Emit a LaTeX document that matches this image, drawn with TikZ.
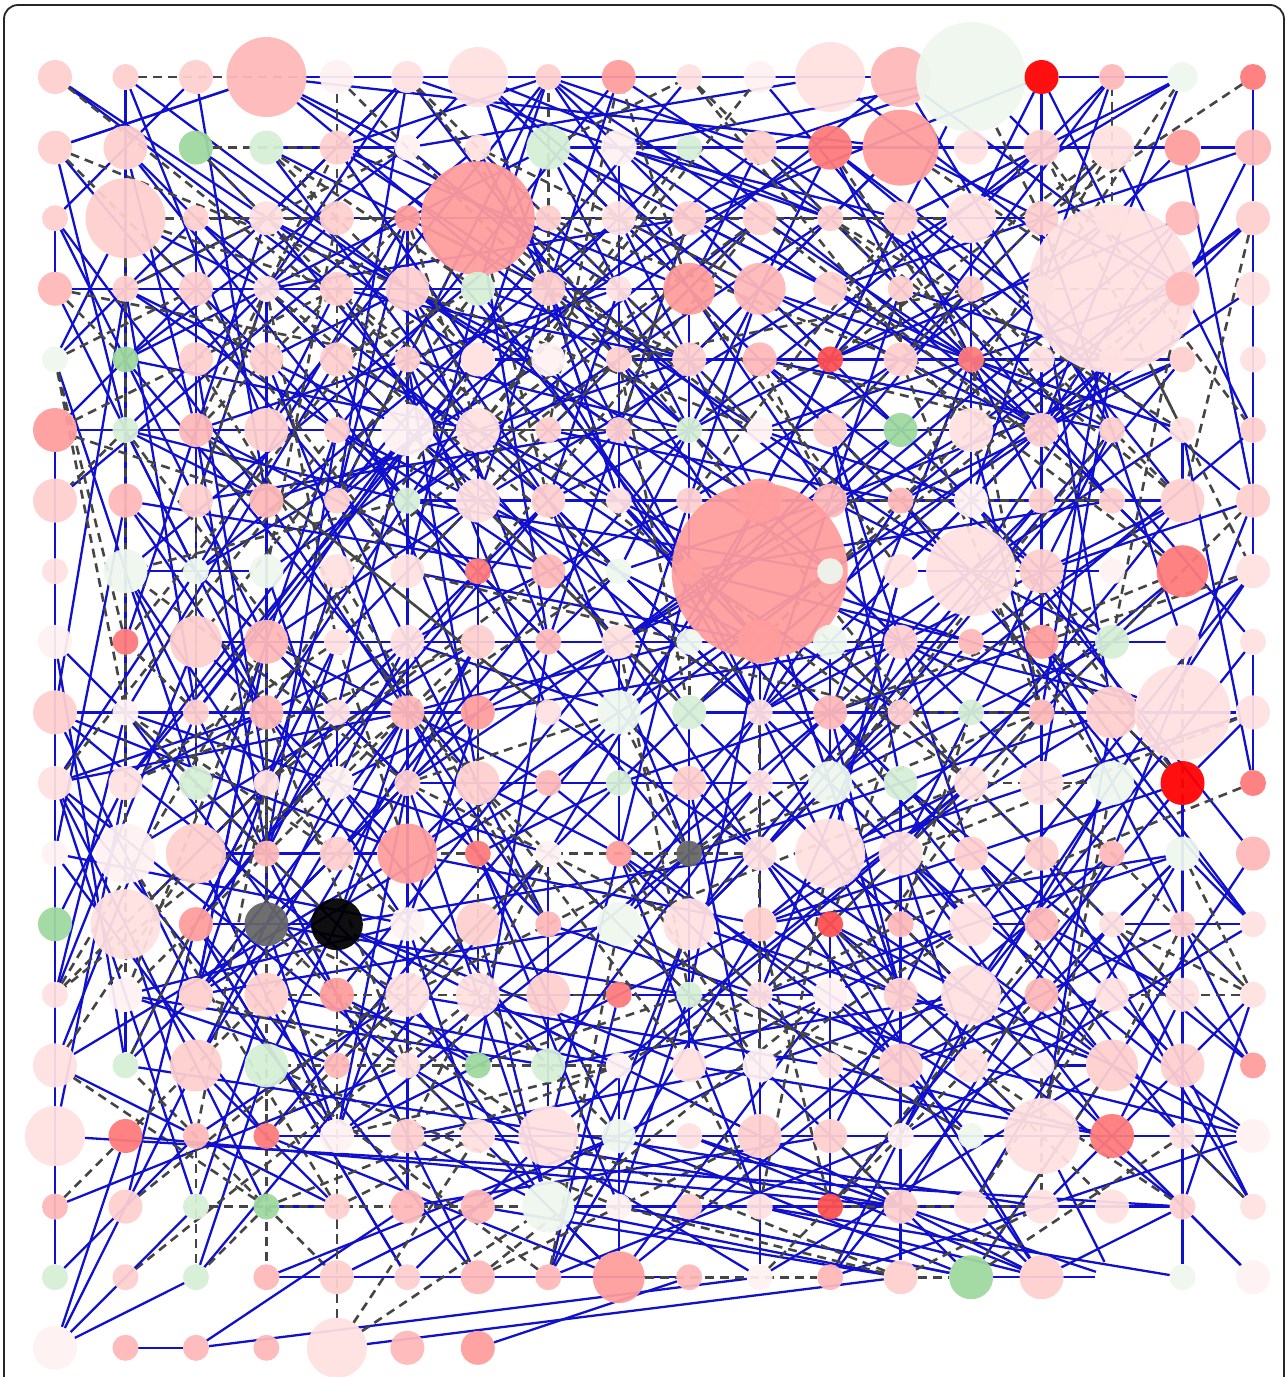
\documentclass[tikz,border=0pt]{standalone}
\pgfdeclarelayer{bg}
\pgfsetlayers{bg,main}
\definecolor{c0}{HTML}{FFF1F1}
\definecolor{c1}{HTML}{FFE0E0}
\definecolor{c2}{HTML}{FFCFCF}
\definecolor{c3}{HTML}{FFB8B8}
\definecolor{c4}{HTML}{FF9C9C}
\definecolor{c5}{HTML}{FF7A7A}
\definecolor{c6}{HTML}{FF5050}
\definecolor{cr}{HTML}{FF0000}
\definecolor{g0}{HTML}{EEF7EE}
\definecolor{g1}{HTML}{D6EED6}
\definecolor{g2}{HTML}{9ED89E}
\definecolor{gy}{HTML}{666666}
\definecolor{bk}{HTML}{000000}
\definecolor{eb}{RGB}{16,16,205}
\definecolor{ed}{HTML}{454545}
\begin{document}
\begin{tikzpicture}[x=1pt,y=-1pt,
  nd/.style={circle,inner sep=0pt,outer sep=0pt,draw=none,fill opacity=0.94},
  be/.style={draw=eb,line width=2.3pt},
  de/.style={draw=ed,line width=2.6pt,dash pattern=on 9pt off 6pt},
  frame/.style={draw=black!85,line width=1.8pt,rounded corners=14pt}]
\useasboundingbox (0,0) rectangle (1288,1377);
% nodes
\foreach \r/\lst in {
0/{17/c2,13/c2,17/c2,40/c3,17/c0,16/c1,30/c1,13/c2,17/c4,13/c1,16/c0,35/c1,30/c3,55/g0,17/cr,13/c3,15/g0,13/c5},
1/{17/c2,22/c2,17/g2,17/g1,17/c2,13/c0,13/c1,22/g1,18/c0,13/g1,17/c2,22/c5,38/c4,17/c1,18/c2,22/c1,18/c4,18/c3},
2/{13/c2,40/c2,13/c2,17/c1,17/c2,13/c4,57/c4,13/c2,17/c1,17/c2,17/c2,13/c2,17/c2,25/c1,17/c2,17/g0,17/c3,17/c2},
3/{17/c3,13/c2,17/c2,13/c1,17/c2,22/c2,17/g1,17/c2,13/c1,26/c4,26/c3,17/c2,13/c2,13/c2,13/g1,84/c1,17/c3,17/c1},
4/{13/g0,13/g2,17/c2,17/c2,17/c2,13/c2,17/c1,17/c0,13/c2,17/c2,17/c3,13/c6,17/c2,13/c5,13/c1,13/c1,13/c2,13/c1},
5/{22/c4,13/g1,17/c3,22/c2,13/c2,26/c0,22/c1,13/c2,13/c2,13/g1,13/c0,17/c2,17/g2,22/c1,17/c2,13/c2,13/c1,13/c2},
6/{22/c2,17/c3,17/c2,17/c3,13/c2,13/g1,22/c1,17/c2,13/c1,13/c2,22/c4,17/c3,13/c3,17/c0,13/c2,13/c2,22/c2,17/c2},
7/{13/c1,22/g0,13/g0,17/g0,17/c1,17/c1,13/c5,17/c3,13/g0,13/c1,88/c4,13/g0,17/c1,45/c1,22/c2,13/c0,26/c5,17/c1},
8/{17/c0,13/c5,26/c2,22/c3,13/c1,17/c1,17/c2,13/c3,17/c1,13/g0,22/c4,17/g0,17/c2,13/c3,17/c4,17/g1,17/c1,13/c1},
9/{22/c2,13/c0,13/c2,17/c3,13/c1,17/c3,17/c4,13/c1,22/g0,17/g1,13/c1,17/c3,13/c2,13/g1,13/c3,26/c2,48/c1,17/c1},
10/{17/c1,17/c1,17/g1,13/c1,17/c0,13/c2,22/c2,13/c3,13/g1,17/c2,13/c1,22/g0,17/g1,17/c1,22/c1,22/g0,22/cr,13/c5},
11/{13/c0,30/c0,30/c2,13/c3,17/c2,30/c4,13/c5,13/c0,13/c4,13/gy,17/c1,35/c1,22/c1,17/c2,17/c2,13/c3,17/g0,17/c3},
12/{17/g2,35/c1,17/c4,22/gy,26/bk,17/c0,22/c2,13/c3,22/g0,26/c1,17/c2,13/c6,13/c3,22/c1,17/c3,13/c1,13/c2,13/c1},
13/{13/c1,17/c0,17/c2,22/c2,17/c4,22/c1,22/c1,22/c2,13/c5,13/g1,13/c1,17/c0,17/c2,30/c1,17/c3,17/c1,17/c1,13/c1},
14/{22/c1,13/g1,26/c2,22/g1,13/c3,13/c1,13/g2,17/g1,13/c0,17/c1,17/c0,13/c1,22/c2,17/c1,13/c0,26/c2,22/c2,13/c4},
15/{30/c1,17/c5,13/c3,13/c5,17/c0,17/c2,17/c1,30/c1,17/g0,13/c1,22/c2,17/c2,13/c0,13/g0,38/c1,22/c5,13/c1,17/c0},
16/{13/c3,17/c2,13/g1,13/g2,13/c2,17/c3,17/c3,26/g0,13/c0,13/c2,13/c1,13/c6,17/c2,17/c1,17/c1,17/c1,13/c2,13/c1},
17/{13/g1,13/c2,13/g1,13/c3,17/c2,13/c2,17/c3,13/c3,26/c4,13/c3,13/c0,13/c3,17/c2,22/g2,22/c2,17/none,13/g0,17/c0},
18/{22/c0,13/c3,13/c3,13/c3,30/c1,17/c3,17/c4}}{
  \foreach \rad/\col [count=\cc from 0] in \lst {
    \node[nd,minimum size=\rad*2pt,fill=\col] (n-\r-\cc) at ({55+70.47*\cc},{77+70.6*\r}) {};
  }
}
\begin{pgfonlayer}{bg}
\pgfmathsetseed{4711}
% blue edges
\foreach \k in {1,...,640}{
  \pgfmathrandominteger{\ra}{0}{17}
  \pgfmathrandominteger{\ca}{0}{17}
  \pgfmathrandominteger{\dr}{-6}{6}
  \pgfmathrandominteger{\dc}{-6}{6}
  \pgfmathtruncatemacro{\rb}{((\ra+\dr<0) || (\ra+\dr>17)) ? \ra-\dr : \ra+\dr}
  \pgfmathtruncatemacro{\cb}{((\ca+\dc<0) || (\ca+\dc>17)) ? \ca-\dc : \ca+\dc}
  \draw[be] (n-\ra-\ca) -- (n-\rb-\cb);
}
% dashed edges
\foreach \k in {1,...,230}{
  \pgfmathrandominteger{\ra}{0}{17}
  \pgfmathrandominteger{\ca}{0}{17}
  \pgfmathrandominteger{\dr}{-5}{5}
  \pgfmathrandominteger{\dc}{-5}{5}
  \pgfmathtruncatemacro{\rb}{((\ra+\dr<0) || (\ra+\dr>17)) ? \ra-\dr : \ra+\dr}
  \pgfmathtruncatemacro{\cb}{((\ca+\dc<0) || (\ca+\dc>17)) ? \ca-\dc : \ca+\dc}
  \draw[de] (n-\ra-\ca) -- (n-\rb-\cb);
}
% particular edges
\draw[be] (n-5-0) -- (n-14-0);
\draw[be] (n-10-16) -- (n-17-16);
\draw[be] (n-18-0) -- (n-17-2);
\draw[be] (n-18-0) -- (n-16-2);
\draw[be] (n-18-0) -- (n-15-1);
\draw[be] (n-18-0) -- (n-14-2);
\draw[be] (n-18-1) -- (n-18-2);
\draw[be] (n-18-2) -- (n-17-10);
\draw[be] (n-18-2) -- (n-16-5);
\draw[be] (n-18-4) -- (n-17-12);
\draw[be] (n-18-6) -- (n-17-9);
\draw[be] (n-17-13) -- (n-17-15);
\draw[be] (n-17-0) -- (n-15-2);
\draw[be] (n-0-14) -- (n-0-15);
\draw[be] (n-0-14) -- (n-0-16);
\draw[be] (n-0-3) -- (n-0-12);
\draw[be] (n-0-3) -- (n-1-12);
\draw[be] (n-0-3) -- (n-1-0);
\draw[be] (n-15-1) -- (n-16-12);
\draw[be] (n-15-0) -- (n-16-16);
\draw[be] (n-14-1) -- (n-16-14);
\draw[be] (n-3-0) -- (n-3-9);
\draw[be] (n-9-0) -- (n-9-6);
\draw[de] (n-2-1) -- (n-13-1);
\draw[de] (n-15-2) -- (n-17-2);
\draw[de] (n-18-4) -- (n-14-4);
\draw[de] (n-18-4) -- (n-15-6);
\draw[de] (n-18-4) -- (n-16-7);
\draw[de] (n-16-0) -- (n-15-1);
\draw[de] (n-17-12) -- (n-17-13);
\draw[de] (n-17-8) -- (n-17-11);
\draw[de] (n-0-17) -- (n-2-14);
\draw[de] (n-1-2) -- (n-1-4);
\draw[de] (n-2-1) -- (n-2-6);
\draw[de] (n-5-0) -- (n-6-3);
\end{pgfonlayer}
\draw[frame] (4,1440) -- (4,5) -- (1284,5) -- (1284,1440);
\end{tikzpicture}
\end{document}
